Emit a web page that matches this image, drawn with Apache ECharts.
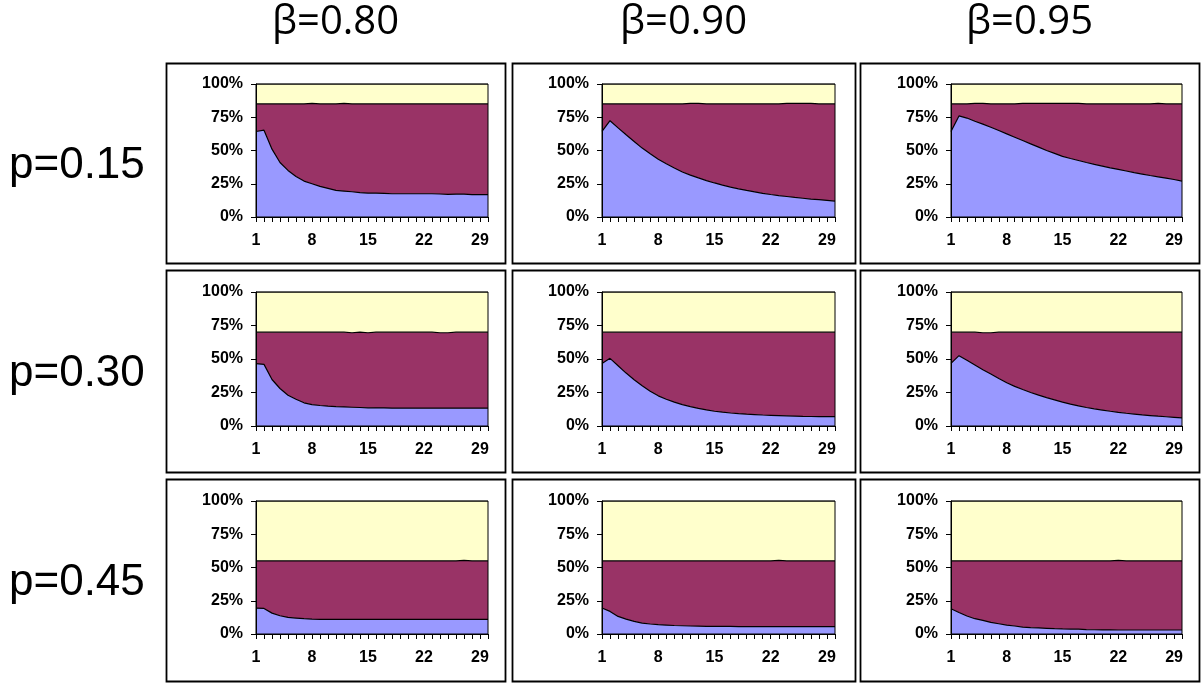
<!DOCTYPE html>
<html>
<head>
<meta charset="utf-8">
<script src="https://cdn.jsdelivr.net/npm/echarts@6/dist/echarts.min.js"></script>
<style>html,body{margin:0;padding:0;background:#fff;}#c{width:1202px;height:684px;}</style>
</head>
<body>
<div id="c"></div>
<script>
// x categories (periods)
var periods = [];
for (var i = 1; i <= 30; i++) periods.push(String(i));
var betaLabels = ['β=0.80', 'β=0.90', 'β=0.95'];
var pLabels = ['p=0.15', 'p=0.30', 'p=0.45'];
var yTicks = [0, 25, 50, 75, 100];

// share of each group, % (blue = bottom, maroon = middle, yellow = top)
// row p=0.15
var blue_p15_b80 = [64.3,65.3,51,41,35,30.5,27,25,23,21.5,20,19.5,19,18.3,18,18,17.8,17.5,17.5,17.5,17.5,17.5,17.5,17.3,17,17.2,17.2,16.8,16.8,16.8];
var mid_p15_b80  = [20.7,19.7,34,44,50,54.5,58,60.4,62,63.5,65,65.9,66,66.7,67,67,67.2,67.5,67.5,67.5,67.5,67.5,67.5,67.7,68,67.8,67.8,68.2,68.2,68.2];
var top_p15_b80  = [15,15,15,15,15,15,15,14.6,15,15,15,14.6,15,15,15,15,15,15,15,15,15,15,15,15,15,15,15,15,15,15];

var blue_p15_b90 = [64.3,72.4,67,61.8,56.8,51.8,47.5,43.5,40,36.8,33.8,31.5,29.4,27.4,25.6,24,22.5,21.2,20,18.9,17.8,16.9,16.1,15.4,14.7,14.1,13.5,13,12.5,12];
var mid_p15_b90  = [20.7,12.6,18,23.2,28.2,33.2,37.5,41.5,45,48.2,51.2,53.9,56,57.6,59.4,61,62.5,63.8,65,66.1,67.2,68.1,68.9,70,70.7,71.3,71.9,72,72.5,73];
var top_p15_b90  = [15,15,15,15,15,15,15,15,15,15,15,14.6,14.6,15,15,15,15,15,15,15,15,15,15,14.6,14.6,14.6,14.6,15,15,15];

var blue_p15_b95 = [64.3,76,74.4,72,69.8,67.5,65,62.5,60,57.5,55,52.5,50,47.8,45.6,44,42.5,41,39.6,38.3,37,35.8,34.6,33.4,32.3,31.2,30.2,29.2,28.2,27];
var mid_p15_b95  = [20.7,9,10.6,13.4,15.6,17.5,20,22.5,25,27.9,30.4,32.9,35.4,37.6,39.8,41.4,42.9,44,45.4,46.7,48,49.2,50.4,51.6,52.7,53.8,55.2,55.8,56.8,58];
var top_p15_b95  = [15,15,15,14.6,14.6,15,15,15,15,14.6,14.6,14.6,14.6,14.6,14.6,14.6,14.6,15,15,15,15,15,15,15,15,15,14.6,15,15,15];

// row p=0.30
var blue_p30_b80 = [46.5,46,34.7,28,23,20,17.3,16,15.3,14.8,14.4,14.2,14,13.8,13.6,13.5,13.5,13.4,13.4,13.4,13.3,13.3,13.3,13.3,13.3,13.3,13.3,13.3,13.3,13.3];
var mid_p30_b80  = [23.5,24,35.3,42,47,50,52.7,54,54.7,55.2,55.6,55.8,55.6,56.2,56,56.5,56.5,56.6,56.6,56.6,56.7,56.7,56.7,56.3,56.3,56.7,56.7,56.7,56.7,56.7];
var top_p30_b80  = [30,30,30,30,30,30,30,30,30,30,30,30,30.4,30,30.4,30,30,30,30,30,30,30,30,30.4,30.4,30,30,30,30,30];

var blue_p30_b90 = [46.7,50.5,45,39.5,34.5,30,26,22.5,20,17.8,16,14.5,13.2,12,11,10.3,9.7,9.2,8.8,8.5,8.2,8,7.8,7.6,7.4,7.2,7.1,7,7,7];
var mid_p30_b90  = [23.3,19.5,25,30.5,35.5,40,44,47.5,50,52.2,54,55.5,56.8,58,59,59.7,60.3,60.8,61.2,61.5,61.8,62,62.2,62.4,62.6,62.8,62.9,63,63,63];
var top_p30_b90  = [30,30,30,30,30,30,30,30,30,30,30,30,30,30,30,30,30,30,30,30,30,30,30,30,30,30,30,30,30,30];

var blue_p30_b95 = [46.7,52.5,49,45.5,42,38.8,35.5,32.3,29.6,27.2,25,23,21.2,19.5,17.8,16.3,15,13.8,12.8,11.9,11,10.2,9.5,8.9,8.3,7.8,7.3,6.9,6.5,6];
var mid_p30_b95  = [23.3,17.5,21,24.5,27.6,30.8,34.5,37.7,40.4,42.8,45,47,48.8,50.5,52.2,53.7,55,56.2,57.2,58.1,59,59.8,60.5,61.1,61.7,62.2,62.7,63.1,63.5,64];
var top_p30_b95  = [30,30,30,30,30.4,30.4,30,30,30,30,30,30,30,30,30,30,30,30,30,30,30,30,30,30,30,30,30,30,30,30];

// row p=0.45
var blue_p45_b80 = [19.5,19.2,15.7,13.7,12.5,12,11.5,11.2,11,11,11,11,11,11,11,11,11,11,11,11,11,11,11,11,11,11,11,11,11,11];
var mid_p45_b80  = [35.5,35.8,39.3,41.3,42.5,43,43.5,43.8,44,44,44,44,44,44,44,44,44,44,44,44,44,44,44,44,44,44,44.4,44,44,44];
var top_p45_b80  = [45,45,45,45,45,45,45,45,45,45,45,45,45,45,45,45,45,45,45,45,45,45,45,45,45,45,44.6,45,45,45];

var blue_p45_b90 = [19.5,17,13.2,11.2,9.5,8.2,7.5,7,6.7,6.4,6.2,6,5.9,5.8,5.8,5.7,5.7,5.6,5.6,5.6,5.6,5.6,5.6,5.6,5.5,5.5,5.5,5.5,5.5,5.5];
var mid_p45_b90  = [35.5,38,41.8,43.8,45.5,46.8,47.5,48,48.3,48.6,48.8,49,49.1,49.2,49.2,49.3,49.3,49.4,49.4,49.4,49.4,49.4,49.8,49.4,49.5,49.5,49.5,49.5,49.5,49.5];
var top_p45_b90  = [45,45,45,45,45,45,45,45,45,45,45,45,45,45,45,45,45,45,45,45,45,45,44.6,45,45,45,45,45,45,45];

var blue_p45_b95 = [19,16.2,13.5,11.5,10.2,8.7,7.7,6.7,6,5.2,4.8,4.6,4.3,4,3.8,3.7,3.6,3.3,3.2,3.1,3.1,3,3,3,3,3,3,3,3,3];
var mid_p45_b95  = [36,38.8,41.5,43.5,44.8,46.3,47.3,48.3,49,49.8,50.2,50.4,50.7,51,51.2,51.3,51.4,51.7,51.8,51.9,51.9,52.4,52,52,52,52,52,52,52,52];
var top_p45_b95  = [45,45,45,45,45,45,45,45,45,45,45,45,45,45,45,45,45,45,45,45,45,44.6,45,45,45,45,45,45,45,45];

var panels = [
  [[blue_p15_b80, mid_p15_b80, top_p15_b80], [blue_p15_b90, mid_p15_b90, top_p15_b90], [blue_p15_b95, mid_p15_b95, top_p15_b95]],
  [[blue_p30_b80, mid_p30_b80, top_p30_b80], [blue_p30_b90, mid_p30_b90, top_p30_b90], [blue_p30_b95, mid_p30_b95, top_p30_b95]],
  [[blue_p45_b80, mid_p45_b80, top_p45_b80], [blue_p45_b90, mid_p45_b90, top_p45_b90], [blue_p45_b95, mid_p45_b95, top_p45_b95]]
];

// layout
var colPlotLeft = [256, 602, 951], colPlotWidth = [232, 233, 231];
var rowPlotTop = [84, 292, 501], rowPlotHeight = [133, 134, 133];
var colFrame = [[166, 505], [512, 855], [860, 1199]];
var rowFrame = [[63, 263], [270, 472], [479, 681]];
var fills = ['#9999FF', '#993366', '#FFFFCC'];

var grids = [], xAxes = [], yAxes = [], series = [], graphics = [];
var idx = 0;
for (var r = 0; r < 3; r++) {
  for (var c = 0; c < 3; c++) {
    graphics.push({type: 'rect', z: -10, shape: {x: colFrame[c][0] + 0.5, y: rowFrame[r][0] + 0.5, width: colFrame[c][1] - colFrame[c][0], height: rowFrame[r][1] - rowFrame[r][0]},
      style: {fill: '#fff', stroke: '#000', lineWidth: 1.8}});
    grids.push({left: colPlotLeft[c], top: rowPlotTop[r], width: colPlotWidth[c], height: rowPlotHeight[r],
      show: true, borderColor: '#000', borderWidth: 1, backgroundColor: 'transparent', z: 10});
    xAxes.push({type: 'category', gridIndex: idx, data: periods, boundaryGap: false,
      axisLine: {lineStyle: {color: '#000', width: 1}},
      axisTick: {show: true, interval: 0, length: 5, lineStyle: {color: '#000'}},
      axisLabel: {interval: 6, color: '#000', fontFamily: 'Liberation Sans', fontWeight: 'bold', fontSize: 16, margin: 16},
      splitLine: {show: false}, z: 10});
    yAxes.push({type: 'value', gridIndex: idx, min: 0, max: 100, interval: 25,
      axisLine: {show: true, lineStyle: {color: '#000', width: 1}},
      axisTick: {show: true, length: 5, lineStyle: {color: '#000'}},
      axisLabel: {color: '#000', fontFamily: 'Liberation Sans', fontWeight: 'bold', fontSize: 16, margin: 13, formatter: '{value}%'},
      splitLine: {show: false}, z: 10});
    for (var s = 0; s < 3; s++) {
      series.push({type: 'line', xAxisIndex: idx, yAxisIndex: idx, stack: 'st' + idx,
        data: panels[r][c][s], showSymbol: false, symbol: 'none', smooth: false,
        lineStyle: {color: '#000', width: 1.2}, areaStyle: {color: fills[s], opacity: 1},
        silent: true, animation: false, z: 2});
    }
    idx++;
  }
}
for (var c2 = 0; c2 < 3; c2++) {
  graphics.push({type: 'text', z: 20, style: {text: betaLabels[c2], x: (colFrame[c2][0] + colFrame[c2][1]) / 2, y: 23,
    textAlign: 'center', textVerticalAlign: 'middle', font: '40px "Open Sans"', fill: '#000'}});
}
for (var r2 = 0; r2 < 3; r2++) {
  graphics.push({type: 'text', z: 20, style: {text: pLabels[r2], x: 9, y: (rowFrame[r2][0] + rowFrame[r2][1]) / 2 + 3,
    textAlign: 'left', textVerticalAlign: 'middle', font: '44px "Liberation Sans"', fill: '#000'}});
}

var chart = echarts.init(document.getElementById('c'), null, {renderer: 'canvas'});
chart.setOption({
  animation: false,
  backgroundColor: '#fff',
  graphic: graphics,
  grid: grids,
  xAxis: xAxes,
  yAxis: yAxes,
  series: series
});
</script>
</body>
</html>
